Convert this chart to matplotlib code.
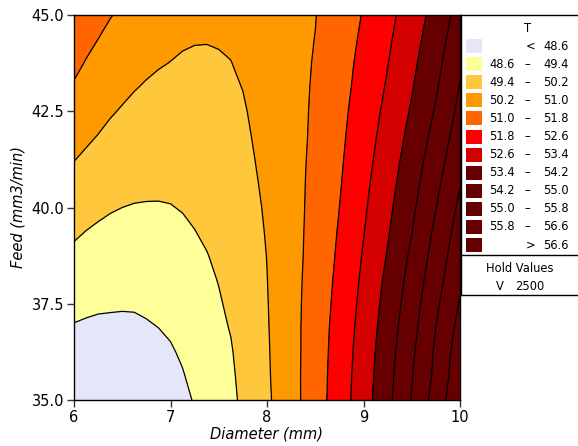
import matplotlib
matplotlib.use("Agg")
import matplotlib.pyplot as plt
import numpy as np
from matplotlib.lines import Line2D
from matplotlib.patches import Rectangle

# ---- data ----
diameter = [6.0, 6.125, 6.25, 6.375, 6.5, 6.625, 6.75, 6.875, 7.0, 7.125, 7.25, 7.375, 7.5, 7.625, 7.75,
            8.0, 8.25, 8.5, 8.75, 9.0, 9.25, 9.5, 9.75, 10.0]
feed = [35.0, 35.625, 36.25, 36.875, 37.5, 38.125, 38.75, 39.375, 40.0,
        40.625, 41.25, 41.875, 42.5, 43.125, 43.75, 44.375, 45.0]

T_feed_35_000 = [47.84, 47.84, 47.86, 47.90, 47.91, 47.96, 48.05, 48.14, 48.27, 48.43, 48.65, 48.86, 49.08, 49.24, 49.53, 50.08, 50.72, 51.43, 52.20, 53.05, 54.00, 55.04, 56.15, 57.23]
T_feed_35_625 = [48.07, 48.06, 48.07, 48.09, 48.10, 48.14, 48.22, 48.29, 48.40, 48.56, 48.76, 48.95, 49.15, 49.29, 49.58, 50.11, 50.73, 51.42, 52.17, 53.01, 53.94, 54.96, 55.98, 57.15]
T_feed_36_250 = [48.31, 48.28, 48.27, 48.28, 48.28, 48.31, 48.38, 48.45, 48.54, 48.68, 48.86, 49.04, 49.21, 49.35, 49.63, 50.13, 50.73, 51.40, 52.14, 52.96, 53.87, 54.86, 55.93, 57.01]
T_feed_36_875 = [48.55, 48.51, 48.48, 48.48, 48.47, 48.49, 48.54, 48.60, 48.68, 48.81, 48.97, 49.12, 49.28, 49.43, 49.68, 50.15, 50.74, 51.38, 52.10, 52.89, 53.78, 54.74, 55.80, 56.85]
T_feed_37_500 = [48.79, 48.73, 48.69, 48.67, 48.66, 48.66, 48.70, 48.75, 48.82, 48.93, 49.07, 49.21, 49.35, 49.50, 49.74, 50.17, 50.74, 51.35, 52.04, 52.82, 53.68, 54.62, 55.65, 56.66]
T_feed_38_125 = [49.02, 48.95, 48.90, 48.86, 48.84, 48.84, 48.87, 48.90, 48.96, 49.06, 49.18, 49.30, 49.42, 49.57, 49.79, 50.19, 50.73, 51.32, 51.98, 52.74, 53.58, 54.49, 55.49, 56.45]
T_feed_38_750 = [49.26, 49.17, 49.10, 49.06, 49.03, 49.02, 49.03, 49.06, 49.10, 49.18, 49.28, 49.38, 49.50, 49.64, 49.84, 50.21, 50.72, 51.28, 51.92, 52.66, 53.45, 54.34, 55.32, 56.32]
T_feed_39_375 = [49.50, 49.39, 49.31, 49.25, 49.21, 49.19, 49.19, 49.21, 49.24, 49.30, 49.39, 49.48, 49.58, 49.71, 49.89, 50.24, 50.72, 51.25, 51.86, 52.57, 53.33, 54.18, 55.16, 56.14]
T_feed_40_000 = [49.74, 49.63, 49.53, 49.45, 49.40, 49.37, 49.36, 49.36, 49.38, 49.43, 49.49, 49.57, 49.66, 49.78, 49.95, 50.27, 50.72, 51.22, 51.80, 52.49, 53.22, 54.05, 54.98, 55.96]
T_feed_40_625 = [49.98, 49.86, 49.75, 49.65, 49.59, 49.54, 49.52, 49.51, 49.51, 49.55, 49.60, 49.66, 49.75, 49.85, 50.00, 50.31, 50.73, 51.19, 51.74, 52.41, 53.11, 53.90, 54.81, 55.76]
T_feed_41_250 = [50.22, 50.09, 49.97, 49.86, 49.78, 49.71, 49.68, 49.65, 49.65, 49.67, 49.70, 49.76, 49.83, 49.92, 50.05, 50.35, 50.73, 51.16, 51.69, 52.32, 53.01, 53.76, 54.63, 55.57]
T_feed_41_875 = [50.46, 50.32, 50.19, 50.06, 49.96, 49.89, 49.83, 49.80, 49.78, 49.79, 49.81, 49.85, 49.91, 49.99, 50.10, 50.39, 50.74, 51.12, 51.64, 52.24, 52.90, 53.62, 54.45, 55.38]
T_feed_42_500 = [50.69, 50.53, 50.40, 50.26, 50.15, 50.06, 49.99, 49.95, 49.92, 49.91, 49.92, 49.94, 49.99, 50.06, 50.15, 50.43, 50.74, 51.10, 51.59, 52.16, 52.79, 53.48, 54.27, 55.20]
T_feed_43_125 = [50.93, 50.75, 50.60, 50.45, 50.34, 50.23, 50.15, 50.09, 50.05, 50.02, 50.03, 50.04, 50.07, 50.13, 50.21, 50.48, 50.76, 51.07, 51.54, 52.07, 52.68, 53.35, 54.11, 55.04]
T_feed_43_750 = [51.17, 50.96, 50.80, 50.64, 50.53, 50.40, 50.31, 50.24, 50.19, 50.14, 50.13, 50.13, 50.16, 50.19, 50.29, 50.54, 50.78, 51.04, 51.50, 52.00, 52.58, 53.23, 53.96, 54.88]
T_feed_44_375 = [51.40, 51.18, 51.00, 50.84, 50.71, 50.57, 50.46, 50.39, 50.32, 50.26, 50.225, 50.22, 50.23, 50.27, 50.37, 50.57, 50.79, 51.01, 51.45, 51.92, 52.48, 53.11, 53.82, 54.70]
T_feed_45_000 = [51.64, 51.39, 51.21, 51.03, 50.90, 50.74, 50.62, 50.53, 50.46, 50.38, 50.34, 50.32, 50.32, 50.36, 50.45, 50.60, 50.80, 50.98, 51.41, 51.84, 52.38, 52.99, 53.68, 54.51]

levels = [48.6, 49.4, 50.2, 51.0, 51.8, 52.6, 53.4, 54.2, 55.0, 55.8, 56.6]
band_colors = ["#E6E6FA", "#FFFF99", "#FFC83C", "#FF9900", "#FF6600", "#FF0000",
               "#D40000", "#660000", "#660000", "#660000", "#660000", "#660000"]
hold_name, hold_value = "V", "2500"

Z = np.array([T_feed_35_000, T_feed_35_625, T_feed_36_250, T_feed_36_875, T_feed_37_500,
              T_feed_38_125, T_feed_38_750, T_feed_39_375, T_feed_40_000, T_feed_40_625,
              T_feed_41_250, T_feed_41_875, T_feed_42_500, T_feed_43_125, T_feed_43_750,
              T_feed_44_375, T_feed_45_000])
X, Y = np.meshgrid(diameter, feed)

W, H = 578, 446
fig = plt.figure(figsize=(W / 100, H / 100), dpi=100)
plt.rcParams['font.family'] = ['DejaVu Sans']

def fx(px):
    return px / W

def fy(py):
    return 1 - py / H

ax = fig.add_axes([fx(74), fy(400), (460 - 74) / W, (400 - 15) / H])
full_levels = [0] + levels + [100]
ax.contourf(X, Y, Z, levels=full_levels, colors=band_colors)
ax.contour(X, Y, Z, levels=levels, colors="black", linewidths=0.9)
ax.set_xlim(6, 10)
ax.set_ylim(35, 45)
ax.set_xticks([6, 7, 8, 9, 10])
ax.set_yticks([35.0, 37.5, 40.0, 42.5, 45.0])
ax.set_yticklabels(["35.0", "37.5", "40.0", "42.5", "45.0"])
ax.tick_params(direction="out", length=5, width=1, labelsize=10.5, pad=2, color="#333333")
for s in ax.spines.values():
    s.set_linewidth(1.0)
ax.set_xlabel("Diameter (mm)", fontstyle="italic", fontsize=10.5, labelpad=1)
ax.set_ylabel("Feed (mm3/min)", fontstyle="italic", fontsize=10.5, labelpad=4)

# ---- legend table ----
lw = 1.0
def hline(y, x0, x1):
    fig.add_artist(Line2D([fx(x0), fx(x1)], [fy(y), fy(y)], color="black", lw=lw, transform=fig.transFigure))

def vline(x, y0, y1):
    fig.add_artist(Line2D([fx(x), fx(x)], [fy(y0), fy(y1)], color="black", lw=lw, transform=fig.transFigure))

hline(15, 460, 578)
hline(255, 460, 578)
hline(295, 460, 578)
vline(460.5, 15, 295)

fs = 8.3
fig.text(fx(528), fy(28), "T", ha="center", va="center", fontsize=fs)
for i, c in enumerate(band_colors):
    yc = 46 + i * 18.1
    fig.add_artist(Rectangle((fx(466), fy(yc + 7)), 15.5 / W, 14 / H, facecolor=c,
                             edgecolor="none", transform=fig.transFigure))
    if i == 0:
        fig.text(fx(531), fy(yc), "<", ha="center", va="center", fontsize=fs)
        fig.text(fx(569), fy(yc), f"{levels[0]:.1f}", ha="right", va="center", fontsize=fs)
    elif i == len(band_colors) - 1:
        fig.text(fx(531), fy(yc), ">", ha="center", va="center", fontsize=fs)
        fig.text(fx(569), fy(yc), f"{levels[-1]:.1f}", ha="right", va="center", fontsize=fs)
    else:
        fig.text(fx(515), fy(yc), f"{levels[i-1]:.1f}", ha="right", va="center", fontsize=fs)
        fig.text(fx(527), fy(yc), "–", ha="center", va="center", fontsize=fs)
        fig.text(fx(569), fy(yc), f"{levels[i]:.1f}", ha="right", va="center", fontsize=fs)

fig.text(fx(520), fy(268), "Hold Values", ha="center", va="center", fontsize=fs)
fig.text(fx(500), fy(286), hold_name, ha="center", va="center", fontsize=fs)
fig.text(fx(544), fy(286), hold_value, ha="right", va="center", fontsize=fs)

fig.savefig("out.png", dpi=100)
